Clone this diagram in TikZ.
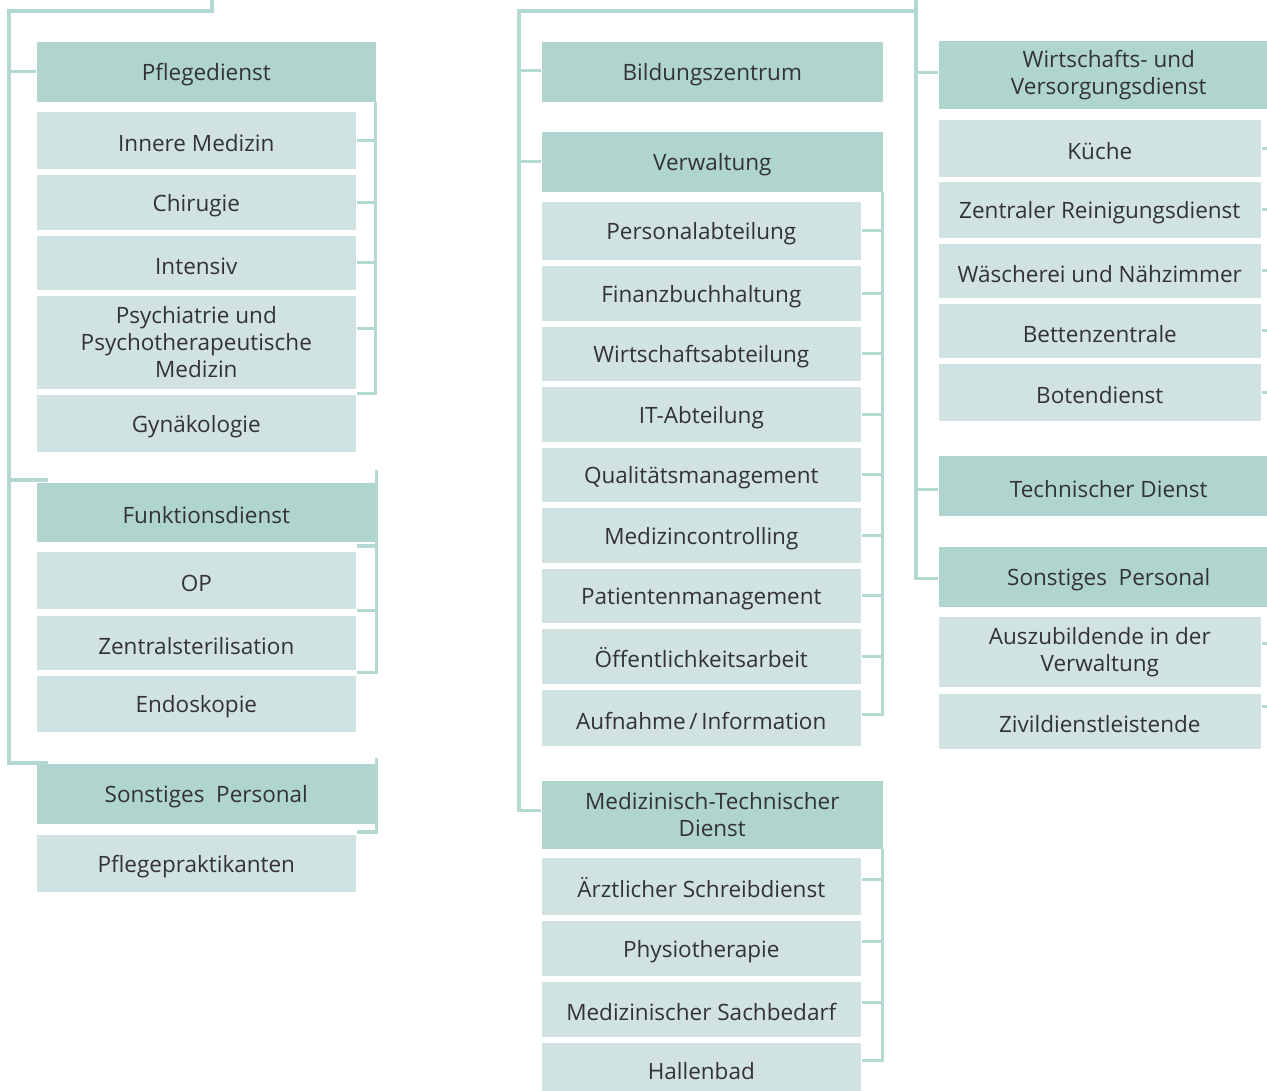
\documentclass[tikz,border=0pt]{standalone}
\usepackage{fontspec}
\setmainfont{Open Sans}
\begin{document}
\begin{tikzpicture}[x=0.01cm, y=-0.01cm,
    box/.style={anchor=north west, inner sep=0pt, align=center, text=txt,
                font=\fontsize{6.4}{7.7}\selectfont,
                execute at begin node={\rule{0pt}{1.05em}}},
    headL/.style={box, fill=headc, minimum width=3.39cm, minimum height=0.60cm},
    subL/.style={box, fill=subc, minimum width=3.19cm, minimum height=0.55cm},
    headM/.style={box, fill=headc, minimum width=3.41cm, minimum height=0.60cm},
    subM/.style={box, fill=subc, minimum width=3.19cm, minimum height=0.55cm},
    headR/.style={box, fill=headc, minimum width=3.40cm, minimum height=0.60cm},
    subR/.style={box, fill=subc, minimum width=3.22cm, minimum height=0.55cm},
    link/.style={draw=linec, line width=0.9pt}]
    \definecolor{headc}{HTML}{AFD5CE}
    \definecolor{subc}{HTML}{D0E2E1}
    \definecolor{linec}{HTML}{B3D9D2}
    \definecolor{txt}{HTML}{333333}
    \useasboundingbox (0,0) rectangle (1267,1090);
    \clip (0,0) rectangle (1267,1090);
    % left column
    \node[headL] (pflege) at (36,41) {Pflegedienst};
    \node[subL, minimum height=0.57cm] (innere) at (36,111) {Innere Medizin};
    \node[subL] (chir) at (36,174) {Chirugie};
    \node[subL, minimum height=0.54cm] (intens) at (36,235) {Intensiv};
    \node[subL, minimum height=0.93cm] (psych) at (36,295) {Psychiatrie und\\Psychotherapeutische\\Medizin};
    \node[subL, minimum height=0.57cm] (gyn) at (36,394) {Gynäkologie};
    \node[headL, minimum height=0.59cm] (funk) at (36,482) {Funktionsdienst};
    \node[subL, minimum height=0.57cm] (op) at (36,551) {OP};
    \node[subL, minimum height=0.54cm] (zsteri) at (36,615) {Zentralsterilisation};
    \node[subL, minimum height=0.56cm] (endo) at (36,675) {Endoskopie};
    \node[headL] (sonstL) at (36,763) {Sonstiges\ \ Personal};
    \node[subL, minimum height=0.57cm] (prakt) at (36,834) {Pflegepraktikanten};
    % middle column
    \node[headM] (bild) at (541,41) {Bildungszentrum};
    \node[headM] (verw) at (541,131) {Verwaltung};
    \node[subM, minimum height=0.58cm] (pers) at (541,201) {Personalabteilung};
    \node[subM] (fibu) at (541,265) {Finanzbuchhaltung};
    \node[subM, minimum height=0.54cm] (wiab) at (541,326) {Wirtschaftsabteilung};
    \node[subM] (it) at (541,386) {IT-Abteilung};
    \node[subM, minimum height=0.54cm] (qm) at (541,447) {Qualitätsmanagement};
    \node[subM] (mc) at (541,507) {Medizincontrolling};
    \node[subM, minimum height=0.54cm] (pm) at (541,568) {Patientenmanagement};
    \node[subM] (oea) at (541,628) {Öffentlichkeitsarbeit};
    \node[subM, minimum height=0.56cm] (aufn) at (541,689) {Aufnahme\,/\,Information};
    \node[headM, minimum height=0.68cm] (mtd) at (541,780) {Medizinisch-Technischer\\Dienst};
    \node[subM, minimum height=0.57cm] (schreib) at (541,857) {Ärztlicher Schreibdienst};
    \node[subM] (physio) at (541,920) {Physiotherapie};
    \node[subM] (sach) at (541,981) {Medizinischer Sachbedarf};
    \node[subM, minimum height=0.50cm] (halle) at (541,1042) {Hallenbad};
    % right column
    \node[headR, minimum height=0.68cm] (wirt) at (938,40) {Wirtschafts- und\\Versorgungsdienst};
    \node[subR, minimum height=0.57cm] (kueche) at (938,119) {Küche};
    \node[subR, minimum height=0.56cm] (reinig) at (938,181) {Zentraler Reinigungsdienst};
    \node[subR, minimum height=0.54cm] (waesch) at (938,243) {Wäscherei und Nähzimmer};
    \node[subR, minimum height=0.54cm] (betten) at (938,303) {Bettenzentrale};
    \node[subR, minimum height=0.57cm] (boten) at (938,363) {Botendienst};
    \node[headR] (tech) at (938,455) {Technischer Dienst};
    \node[headR] (sonstR) at (938,546) {Sonstiges\ \ Personal};
    \node[subR, minimum height=0.70cm] (azubi) at (938,616) {Auszubildende in der\\Verwaltung};
    \node[subR] (zivi) at (938,693) {Zivildienstleistende};
    % trunks
    \coordinate (rootL) at (212,-10);
    \coordinate (trunkL) at (9,11);
    \coordinate (rootM) at (916,-10);
    \coordinate (trunkM) at (519,11);
    \draw[link] (rootL) |- (trunkL) |- ([xshift=0.12cm]sonstL.north west);
    \draw[link] (trunkL) |- (pflege.west);
    \draw[link] (trunkL) |- ([xshift=0.12cm,yshift=0.02cm]funk.north west);
    \draw[link] (rootM) |- (trunkM) |- ([yshift=0.04cm]mtd.west);
    \draw[link] (trunkM) |- ([yshift=0.01cm]bild.west);
    \draw[link] (trunkM) |- (verw.west);
    \draw[link] (rootM) |- ([yshift=0.02cm]wirt.west);
    \draw[link] (rootM) |- ([yshift=-0.04cm]tech.west);
    \draw[link] (rootM) |- ([yshift=-0.02cm]sonstR.west);
    % brackets left
    \draw[link] ([xshift=-0.01cm]pflege.south east) |- ([yshift=-0.04cm]psych.south east);
    \foreach \n in {innere,chir,intens}
        \draw[link] (\n.east) -- (\n.east -| pflege.east);
    \draw[link] ([yshift=0.14cm]psych.east) -- ([yshift=0.14cm,xshift=-0.01cm]psych.east -| pflege.east);
    \draw[link] ([yshift=0.12cm]funk.north east) |- ([yshift=-0.02cm]zsteri.south east);
    \draw[link] ([yshift=0.05cm]op.north east) -- ([yshift=0.05cm]op.north east -| funk.east);
    \draw[link] ([yshift=-0.01cm]op.south east) -- ([yshift=-0.01cm]op.south east -| funk.east);
    \draw[link] ([yshift=0.05cm]sonstL.north east) |- ([yshift=0.02cm]prakt.north east);
    % brackets middle
    \draw[link] ([xshift=-0.01cm]verw.south east) |- ([yshift=0.03cm]aufn.east);
    \foreach \n in {pers,fibu,wiab,it,qm,mc,pm,oea}
        \draw[link] (\n.east) -- (\n.east -| verw.east);
    \draw[link] ([xshift=-0.01cm]mtd.south east) |- ([yshift=0.07cm]halle.east);
    \foreach \n in {schreib,physio,sach}
        \draw[link] ([yshift=0.07cm]\n.east) -- ([yshift=0.07cm]\n.east -| mtd.east);
    % ticks right
    \foreach \n in {kueche,reinig,waesch,betten,boten}
        \draw[link] (\n.east) -- ++(12,0);
    \draw[link] ([yshift=0.08cm]azubi.east) -- ++(12,0);
    \draw[link] ([yshift=0.15cm]zivi.east) -- ++(12,0);
\end{tikzpicture}
\end{document}
